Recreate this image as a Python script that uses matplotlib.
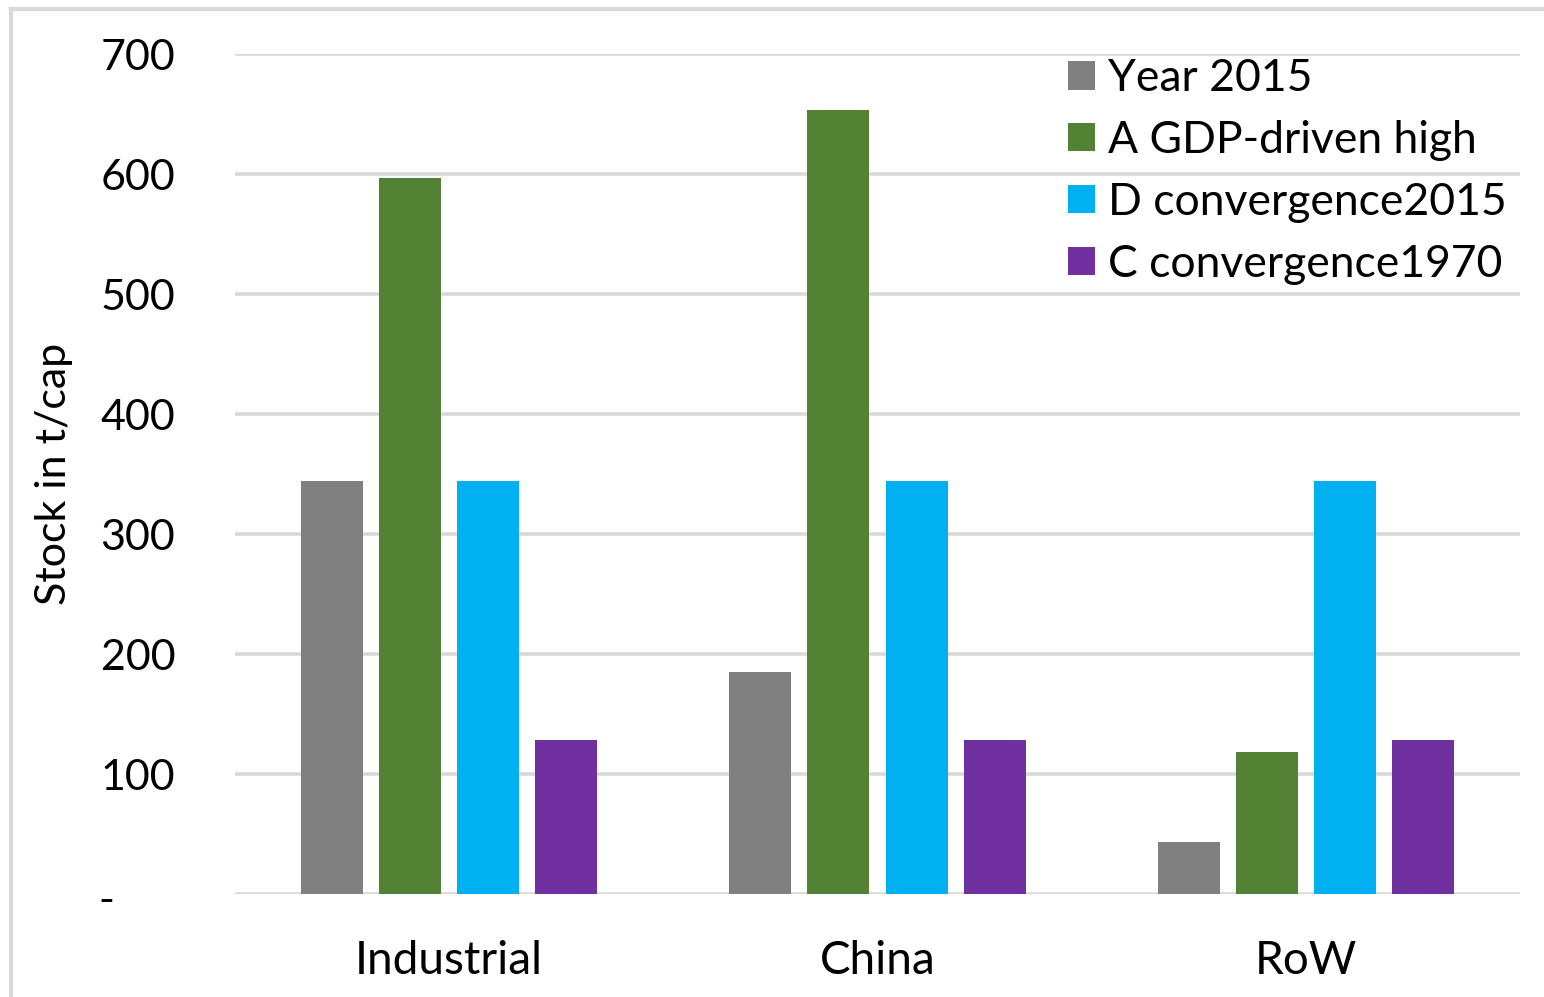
import matplotlib
matplotlib.use("Agg")
import matplotlib.pyplot as plt
import numpy as np
from matplotlib.transforms import ScaledTranslation
from matplotlib.lines import Line2D

plt.rcParams['font.family'] = ['Lato', 'DejaVu Sans']

categories = ["Industrial", "China", "RoW"]
series_names = ["Year 2015", "A GDP-driven high", "D convergence2015", "C convergence1970"]
year_2015 = [344, 185, 43]
gdp_high = [597, 653, 118]
conv_2015 = [344, 344, 344]
conv_1970 = [128, 128, 128]
yticks = [0, 100, 200, 300, 400, 500, 600, 700]
ytick_labels = ["-", "100", "200", "300", "400", "500", "600", "700"]

colors = ["#808080", "#548235", "#00B0F0", "#7030A0"]
series = [year_2015, gdp_high, conv_2015, conv_1970]

W, H = 1544, 997
fig = plt.figure(figsize=(W / 100, H / 100), dpi=100)
ax = fig.add_axes([235 / W, 1 - 894 / H, (1520 - 235) / W, (894 - 54) / H])

x = np.arange(len(categories))
bw = 62 / 428.3
step = 78 / 428.3
for i, (vals, c, name) in enumerate(zip(series, colors, series_names)):
    ax.bar(x + (i - 1.5) * step, vals, width=bw, color=c, label=name, zorder=3)

ax.set_xlim(-0.5, 2.5)
ax.set_ylim(0, 700)
ax.set_yticks(yticks)
ax.set_yticklabels(ytick_labels)
ax.set_xticks(x)
ax.set_xticklabels(categories)
ax.tick_params(axis='y', length=0, pad=43, labelsize=31, labelcolor='#000000')
ax.tick_params(axis='x', length=0, pad=33, labelsize=33)
for s in ax.spines.values():
    s.set_visible(False)
ax.yaxis.grid(True, color='#D9D9D9', linewidth=2.6, zorder=0)
ax.set_axisbelow(True)

# shift zero label ("-") leftwards like Excel accounting format
lbl0 = ax.get_yticklabels()[0]
lbl0.set_transform(lbl0.get_transform() + ScaledTranslation(-0.61, -0.04, fig.dpi_scale_trans))

ax.set_ylabel("Stock in t/cap", fontsize=31)
ax.yaxis.set_label_coords(-0.126, 0.5)

leg = ax.legend(loc='upper left', bbox_to_anchor=(1068 / W, 1 - 58 / H),
                bbox_transform=fig.transFigure, frameon=False, fontsize=32,
                handlelength=0.61, handleheight=0.61, handletextpad=0.29,
                labelspacing=0.47, borderpad=0, borderaxespad=0)

# outer light-gray frame (top and left visible)
fig.add_artist(Line2D([11 / W, 1.01], [1 - 9 / H, 1 - 9 / H], transform=fig.transFigure,
                      color='#D9D9D9', linewidth=3))
fig.add_artist(Line2D([11 / W, 11 / W], [1 - 9 / H, -0.01], transform=fig.transFigure,
                      color='#D9D9D9', linewidth=3))

fig.savefig("out.png", dpi=100)
